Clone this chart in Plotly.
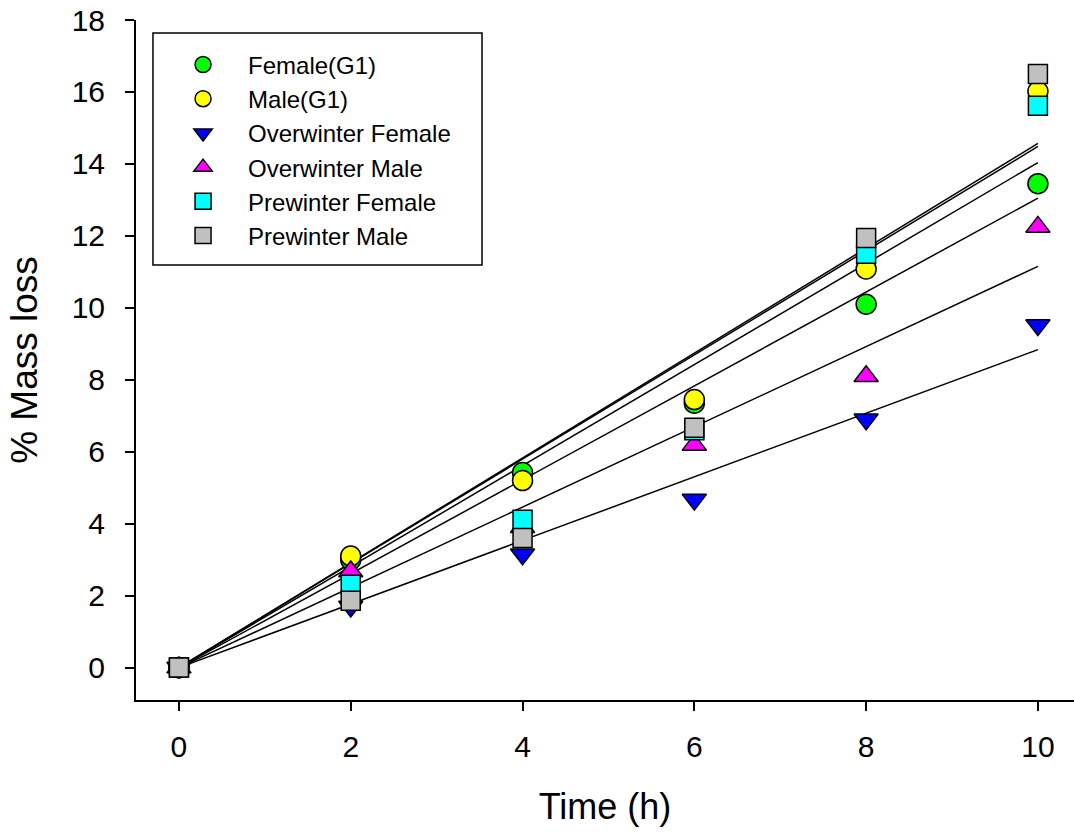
import numpy as np
import plotly.graph_objects as go

# ---- data ----
time_h = [0, 2, 4, 6, 8, 10]

female_g1 = [0, 3.0, 5.42, 7.35, 10.1, 13.45]
male_g1 = [0, 3.1, 5.2, 7.45, 11.08, 16.02]
overwinter_female = [0, 1.7, 3.15, 4.67, 6.9, 9.52]
overwinter_male = [0, 2.67, 3.9, 6.19, 8.1, 12.25]
prewinter_female = [0, 2.3, 4.11, 6.6, 11.5, 15.62]
prewinter_male = [0, 1.86, 3.6, 6.67, 11.94, 16.5]

series_names = ["Female(G1)", "Male(G1)", "Overwinter Female",
                "Overwinter Male", "Prewinter Female", "Prewinter Male"]
series_values = [female_g1, male_g1, overwinter_female,
                 overwinter_male, prewinter_female, prewinter_male]

x_ticks = [0, 2, 4, 6, 8, 10]
y_ticks = [0, 2, 4, 6, 8, 10, 12, 14, 16, 18]

# ---- styles ----
colors = ["#00FF00", "#FFFF00", "#0000FF", "#FF00FF", "#00FFFF", "#C0C0C0"]
symbols = ["circle", "circle", "triangle-down", "triangle-up", "square", "square"]
sizes = [20, 20, 21, 21, 19, 19]

FONT = "Arial, 'Liberation Sans', Helvetica, sans-serif"

fig = go.Figure()

# regression lines through the origin, fitted from the data
xs = np.array(time_h, dtype=float)
for vals in series_values:
    ys = np.array(vals, dtype=float)
    slope = float(np.sum(xs * ys) / np.sum(xs * xs))
    fig.add_trace(go.Scatter(
        x=[xs.min(), xs.max()], y=[0, slope * xs.max()],
        mode="lines", line=dict(color="black", width=1.5),
        showlegend=False, hoverinfo="skip"))

for name, vals, c, s, sz in zip(series_names, series_values, colors, symbols, sizes):
    fig.add_trace(go.Scatter(
        x=time_h, y=vals, mode="markers", name=name,
        marker=dict(symbol=s, size=sz, color=c,
                    line=dict(color="black", width=1.5))))

fig.update_layout(
    width=1074, height=835,
    margin=dict(l=136, r=0, t=20, b=135),
    paper_bgcolor="white", plot_bgcolor="white",
    font=dict(family=FONT, color="black"),
    showlegend=True,
    legend=dict(
        x=0.0235, y=0.967, xanchor="left", yanchor="top",
        bgcolor="rgba(0,0,0,0)", borderwidth=0,
        font=dict(size=24, family=FONT, color="black"),
        itemwidth=80, itemsizing="trace", tracegroupgap=0,
    ),
    shapes=[dict(
        type="rect", xref="paper", yref="paper",
        x0=0.0181, x1=0.3689, y0=0.6397, y1=0.9809,
        line=dict(color="black", width=1.5), fillcolor="white", layer="below",
    )],
    xaxis=dict(
        range=[-0.5, 10.42], tickvals=x_ticks, ticktext=[str(v) for v in x_ticks],
        showline=True, linecolor="black", linewidth=2,
        ticks="outside", ticklen=9, tickwidth=1.5, tickcolor="black",
        showgrid=False, zeroline=False,
        tickfont=dict(size=30, family=FONT, color="black"),
        ticklabelstandoff=10,
        title=dict(text="Time (h)", font=dict(size=36, family=FONT, color="black"),
                   standoff=32),
    ),
    yaxis=dict(
        range=[-0.9, 18], tickvals=y_ticks, ticktext=[str(v) for v in y_ticks],
        showline=True, linecolor="black", linewidth=2,
        ticks="outside", ticklen=9, tickwidth=1.5, tickcolor="black",
        showgrid=False, zeroline=False,
        tickfont=dict(size=30, family=FONT, color="black"),
        ticklabelstandoff=14,
        title=dict(text="% Mass loss", font=dict(size=37, family=FONT, color="black"),
                   standoff=23),
    ),
)

fig.write_html("out.html")
